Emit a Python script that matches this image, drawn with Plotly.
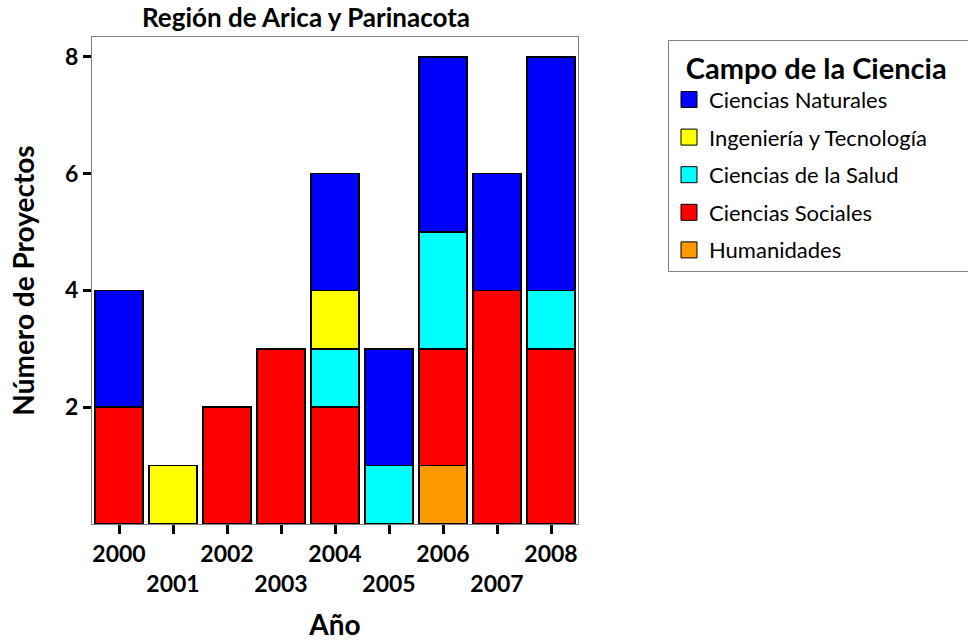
import plotly.graph_objects as go

years = ["2000", "2001", "2002", "2003", "2004", "2005", "2006", "2007", "2008"]
tick_labels = ["2000", "<br>2001", "2002", "<br>2003", "2004", "<br>2005", "2006", "<br>2007", "2008"]

# stacked from bottom to top
humanidades = [0, 0, 0, 0, 0, 0, 1, 0, 0]
sociales    = [2, 0, 2, 3, 2, 0, 2, 4, 3]
salud       = [0, 0, 0, 0, 1, 1, 2, 0, 1]
ingenieria  = [0, 1, 0, 0, 1, 0, 0, 0, 0]
naturales   = [2, 0, 0, 0, 2, 2, 3, 2, 4]

series = [
    ("Humanidades", humanidades, "#FF9900"),
    ("Ciencias Sociales", sociales, "#FF0000"),
    ("Ciencias de la Salud", salud, "#00FFFF"),
    ("Ingeniería y Tecnología", ingenieria, "#FFFF00"),
    ("Ciencias Naturales", naturales, "#0000FF"),
]
legend_order = ["Ciencias Naturales", "Ingeniería y Tecnología", "Ciencias de la Salud",
                "Ciencias Sociales", "Humanidades"]

FONT = "Lato"
fig = go.Figure()
for name, vals, color in series:
    fig.add_trace(go.Bar(
        x=years, y=[v if v > 0 else None for v in vals], name=name,
        marker=dict(color=color, line=dict(color="black", width=1.5)),
        showlegend=False,
    ))
colors = {n: c for n, _, c in series}
for i, name in enumerate(legend_order):
    fig.add_trace(go.Scatter(
        x=[None], y=[None], mode="markers", name=name,
        marker=dict(symbol="square", size=16, color=colors[name],
                    line=dict(color="black", width=1)),
        legendrank=i + 1, legendgroup=name,
    ))

bold_ticks = []
for t in tick_labels:
    if t.startswith("<br>"):
        bold_ticks.append("<br><b>" + t[4:] + "</b>")
    else:
        bold_ticks.append("<b>" + t + "</b>")

fig.update_layout(
    barmode="stack",
    bargap=0.11,
    width=968, height=641,
    margin=dict(l=92, r=390, t=37, b=117, autoexpand=False),
    plot_bgcolor="white", paper_bgcolor="white",
    font=dict(family=FONT, color="black"),
    title=dict(text="<b>Región de Arica y Parinacota</b>", x=306 / 968, xanchor="center",
               y=1 - 18 / 641, yanchor="middle", font=dict(size=26, family=FONT, color="black")),
    legend=dict(
        x=(668 - 92) / 486, xanchor="left", y=1 - 3 / 487, yanchor="top",
        bordercolor="#808080", borderwidth=1, bgcolor="white",
        font=dict(size=22, family=FONT, color="black"),
        title=dict(text="&nbsp;&nbsp;<b>Campo de la Ciencia</b>&nbsp;&nbsp;&nbsp;&nbsp;&nbsp;&nbsp;&nbsp;",
                   font=dict(size=29, family=FONT)),
        tracegroupgap=6, itemsizing="trace",
    ),
    xaxis=dict(
        type="category", range=[-0.5, 8.5], tickvals=years, ticktext=bold_ticks, tickangle=0,
        ticks="outside", ticklen=9, tickwidth=3, tickcolor="black",
        showline=True, linecolor="#808080", linewidth=1, mirror=True,
        showgrid=False, tickfont=dict(size=23, family=FONT),
        title=dict(text="<b>Año</b>", font=dict(size=28, family=FONT), standoff=21),
    ),
    yaxis=dict(
        range=[0, 8.34], tickvals=[2, 4, 6, 8], ticktext=["<b>2</b>", "<b>4</b>", "<b>6</b>", "<b>8</b>"],
        ticks="outside", ticklen=8, tickwidth=3, tickcolor="black",
        showline=True, linecolor="#808080", linewidth=1, mirror=True,
        showgrid=False, zeroline=False, tickfont=dict(size=23, family=FONT),
        title=dict(text="<b>Número de Proyectos</b>", font=dict(size=28, family=FONT), standoff=22),
    ),
)
fig.write_html("out.html", config={"displayModeBar": False},
               post_script="document.body.style.margin='0';")
